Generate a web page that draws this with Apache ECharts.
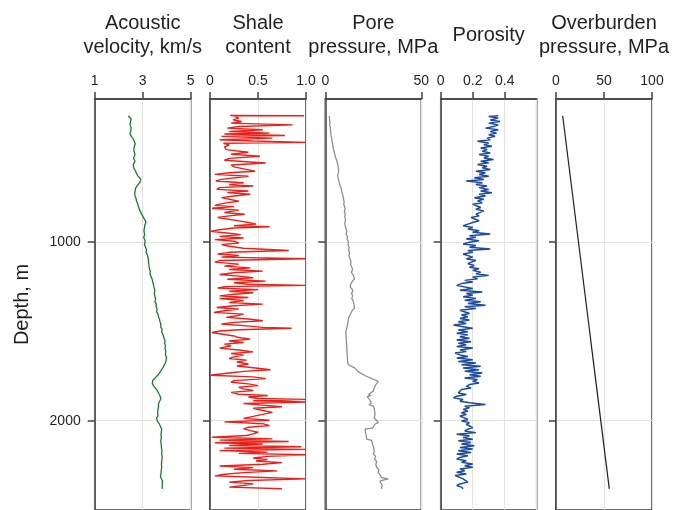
<!DOCTYPE html>
<html>
<head>
<meta charset="utf-8">
<script src="https://cdn.jsdelivr.net/npm/echarts@6/dist/echarts.min.js"></script>
<style>
html,body{margin:0;padding:0;background:#fff;}
#chart{width:673px;height:510px;}
</style>
</head>
<body>
<div id="chart"></div>
<script>
// ---- Data (depth in m, values per track) ----
const velDepth = [294,300,305,312,321,327,332,338,344,352,360,370,382,390,395,400,408,415,422,428,436,445,452,461,470,480,490,500,510,520,530,540,548,557,566,575,585,594,600,608,615,622,630,641,650,659,667,675,683,691,700,710,725,743,755,770,785,802,812,825,835,844,855,865,878,891,903,915,925,937,948,960,975,990,1002,1015,1030,1045,1057,1068,1075,1085,1094,1110,1130,1150,1165,1178,1190,1200,1212,1224,1237,1250,1260,1271,1285,1300,1318,1335,1348,1360,1375,1391,1405,1420,1433,1446,1460,1475,1490,1502,1512,1520,1530,1539,1552,1565,1580,1594,1610,1630,1648,1668,1680,1690,1702,1715,1728,1743,1755,1765,1775,1785,1793,1800,1808,1817,1826,1835,1845,1854,1862,1870,1876,1882,1893,1905,1915,1928,1940,1950,1960,1972,1985,2002,2010,2020,2030,2048,2060,2080,2095,2113,2130,2150,2168,2187,2205,2220,2240,2261,2280,2300,2315,2322,2326,2335,2345,2360,2372,2382];
const velValues = [2.40,2.46,2.45,2.52,2.54,2.49,2.50,2.46,2.47,2.53,2.52,2.48,2.50,2.55,2.47,2.44,2.52,2.55,2.60,2.61,2.65,2.64,2.69,2.68,2.64,2.66,2.63,2.65,2.68,2.67,2.62,2.63,2.68,2.65,2.61,2.66,2.62,2.64,2.69,2.68,2.74,2.72,2.80,2.86,2.92,2.96,2.88,2.82,2.78,2.75,2.70,2.72,2.67,2.68,2.72,2.74,2.79,2.82,2.87,2.88,2.93,2.96,3.00,3.04,3.10,3.14,3.09,3.08,3.03,3.05,3.10,3.08,3.04,3.09,3.10,3.07,3.12,3.16,3.14,3.18,3.20,3.25,3.23,3.24,3.26,3.28,3.32,3.30,3.34,3.36,3.40,3.42,3.45,3.46,3.52,3.51,3.48,3.50,3.54,3.51,3.57,3.55,3.60,3.58,3.64,3.66,3.70,3.72,3.76,3.75,3.81,3.79,3.84,3.85,3.90,3.89,3.93,3.91,3.95,3.93,3.96,3.95,3.99,3.97,3.93,3.90,3.85,3.79,3.72,3.65,3.56,3.50,3.42,3.35,3.40,3.45,3.47,3.51,3.58,3.62,3.66,3.69,3.72,3.71,3.76,3.72,3.70,3.66,3.69,3.65,3.63,3.66,3.62,3.64,3.58,3.61,3.66,3.70,3.72,3.79,3.78,3.76,3.78,3.75,3.77,3.78,3.80,3.79,3.81,3.80,3.78,3.79,3.77,3.76,3.74,3.70,3.72,3.82,3.80,3.82,3.81,3.82];

const shaleDepth = [292,294,296,307,317,326,335,345,354,363,372,382,391,396,404,409,419,428,435,443,448,456,469,483,498,509,520,532,543,558,569,580,591,604,613,622,632,641,650,659,669,680,687,696,706,715,724,733,743,752,761,772,783,795,802,811,822,835,845,854,863,872,882,891,900,909,915,922,932,941,950,959,969,978,987,996,1006,1015,1024,1035,1048,1058,1067,1076,1085,1094,1104,1113,1124,1135,1145,1154,1163,1172,1182,1191,1200,1209,1219,1228,1237,1243,1250,1258,1267,1276,1284,1293,1302,1311,1317,1328,1339,1348,1357,1367,1376,1385,1394,1404,1413,1422,1431,1441,1450,1459,1468,1478,1483,1491,1498,1507,1517,1526,1535,1544,1554,1563,1572,1581,1594,1605,1615,1624,1633,1643,1652,1661,1672,1683,1694,1704,1715,1724,1733,1746,1755,1765,1776,1785,1794,1804,1813,1822,1831,1842,1852,1859,1868,1876,1881,1889,1896,1904,1913,1922,1931,1943,1954,1965,1976,1987,1998,2007,2017,2028,2037,2046,2056,2065,2074,2083,2093,2102,2109,2117,2124,2131,2139,2146,2154,2161,2168,2176,2183,2191,2200,2209,2218,2226,2235,2244,2254,2263,2272,2281,2291,2300,2309,2318,2326,2335,2344,2354,2363,2372,2381];
const shaleValues = [0.21,0.98,0.25,0.30,0.24,0.33,0.22,0.86,0.30,0.18,0.55,0.20,0.62,0.15,0.78,0.12,0.65,0.10,0.45,1.00,0.14,0.20,0.15,0.17,0.40,0.22,0.52,0.20,0.15,0.58,0.22,0.25,0.35,0.47,0.20,0.05,0.40,0.42,0.12,0.06,0.35,0.20,0.45,0.10,0.07,0.40,0.18,0.42,0.25,0.12,0.10,0.30,0.15,0.05,0.25,0.02,0.30,0.15,0.36,0.20,0.08,0.06,0.30,0.40,0.48,0.25,0.62,0.25,0.10,0.00,0.18,0.32,0.10,0.35,0.05,0.25,0.30,0.12,0.20,0.35,0.82,0.20,0.08,0.30,0.12,1.00,0.10,0.05,0.30,0.15,0.42,0.20,0.55,0.25,0.10,0.30,0.45,0.18,0.58,0.25,0.40,1.00,0.15,0.08,0.50,0.20,0.45,0.25,0.10,0.40,0.10,0.35,0.20,0.55,0.25,0.07,0.30,0.15,0.04,0.35,0.28,0.17,0.40,0.55,0.25,0.12,0.35,0.55,0.85,0.30,0.10,0.02,0.00,0.25,0.30,0.42,0.20,0.35,0.15,0.22,0.10,0.30,0.45,0.22,0.35,0.25,0.20,0.38,0.28,0.40,0.28,0.45,0.63,0.35,0.20,0.00,0.45,0.58,0.25,0.22,0.40,0.50,0.30,0.35,0.45,0.22,0.30,0.60,0.40,0.50,1.00,0.45,1.00,0.35,0.55,0.75,0.45,0.55,0.65,0.55,0.45,0.35,0.62,0.15,0.55,0.62,0.40,0.35,0.42,0.50,0.45,0.38,0.02,0.65,0.10,0.82,0.05,0.55,0.20,0.95,0.15,1.00,0.10,0.60,0.30,1.00,0.60,0.45,0.60,0.48,0.75,0.55,0.10,0.45,0.25,0.70,0.35,0.15,0.05,0.55,1.00,0.40,0.20,0.45,0.35,0.20,0.75];

const poreDepth = [294,310,330,345,360,375,391,405,420,435,450,465,483,497,510,525,540,555,576,590,600,610,625,640,650,665,687,700,720,740,761,775,790,805,817,830,845,860,875,890,909,925,940,955,970,985,1002,1015,1030,1045,1060,1075,1095,1110,1125,1140,1155,1170,1185,1195,1206,1215,1225,1237,1250,1262,1275,1288,1300,1317,1330,1340,1352,1360,1372,1383,1395,1405,1415,1428,1438,1450,1460,1470,1483,1493,1502,1600,1678,1690,1706,1712,1724,1750,1780,1800,1820,1835,1845,1855,1860,1865,1872,1880,1890,1900,1910,1920,1928,1940,1950,1965,1983,1995,2004,2011,2020,2030,2040,2048,2060,2080,2104,2110,2120,2130,2140,2150,2160,2175,2187,2200,2215,2230,2245,2261,2275,2290,2305,2317,2322,2326,2333,2340,2350,2360,2370,2382];
const poreValues = [2.1,2.2,2.4,2.3,2.6,2.7,2.9,3.0,3.3,3.5,3.8,4.0,4.3,4.6,5.0,5.3,5.8,6.3,6.6,6.9,6.7,6.9,6.5,6.6,6.4,7.2,7.8,8.3,8.6,9.2,9.5,9.8,9.6,10.2,10.3,9.9,10.4,10.1,10.6,10.2,10.3,10.8,11.2,10.9,11.5,11.4,12.1,11.8,12.4,12.1,12.6,12.3,12.9,13.4,13.1,13.8,14.2,13.6,14.6,14.1,15.2,14.5,13.8,13.2,12.9,13.8,14.4,13.6,14.2,13.8,14.5,14.1,15.0,14.2,15.2,14.0,13.5,14.2,12.6,12.1,12.9,11.8,12.5,11.4,11.2,11.8,10.7,11.2,11.7,12.5,15.5,15.0,16.9,21.0,27.6,26.2,25.4,25.0,23.5,22.4,23.8,21.8,21.6,22.9,22.3,24.0,22.8,25.2,24.9,25.6,24.8,25.9,25.5,26.4,25.8,27.6,25.7,25.0,24.8,20.7,20.9,21.2,21.6,24.1,23.5,24.6,23.9,25.2,24.6,25.5,25.0,26.2,25.7,26.8,26.3,26.7,27.9,27.5,28.6,29.3,30.8,32.8,30.0,28.4,29.1,29.6,29.0,29.3];

const porosityDepth = [294,298,307,317,326,335,345,354,363,372,382,391,400,409,419,428,437,446,456,465,474,483,493,502,511,520,530,539,548,557,567,576,585,594,604,613,622,632,641,650,659,669,678,687,696,706,715,724,733,743,752,761,770,780,789,798,807,817,826,835,844,854,863,872,881,891,900,909,919,928,937,946,956,965,974,983,993,1002,1011,1020,1030,1039,1048,1058,1067,1076,1085,1094,1104,1113,1122,1132,1141,1150,1159,1169,1178,1187,1196,1206,1215,1224,1233,1243,1252,1261,1270,1280,1289,1298,1307,1317,1326,1335,1344,1354,1363,1372,1382,1391,1400,1409,1419,1428,1437,1446,1456,1465,1474,1483,1493,1502,1511,1520,1530,1539,1548,1558,1567,1576,1585,1594,1604,1613,1622,1632,1641,1650,1659,1669,1678,1687,1696,1706,1715,1724,1733,1743,1752,1761,1770,1780,1789,1798,1808,1817,1826,1835,1845,1854,1863,1872,1882,1891,1900,1909,1919,1928,1937,1946,1956,1965,1974,1983,1993,2002,2011,2020,2030,2039,2048,2058,2067,2076,2085,2094,2104,2113,2122,2131,2141,2150,2159,2168,2178,2187,2196,2206,2215,2224,2233,2243,2252,2261,2270,2280,2289,2298,2307,2317,2326,2335,2344,2354,2363,2372,2381];
const porosityValues = [0.36,0.30,0.36,0.31,0.37,0.30,0.36,0.33,0.28,0.36,0.31,0.35,0.30,0.34,0.29,0.31,0.23,0.30,0.27,0.32,0.25,0.29,0.26,0.31,0.24,0.30,0.27,0.33,0.25,0.30,0.23,0.29,0.26,0.31,0.22,0.28,0.24,0.30,0.21,0.27,0.16,0.26,0.22,0.29,0.24,0.30,0.25,0.32,0.24,0.28,0.21,0.27,0.23,0.26,0.20,0.20,0.25,0.22,0.27,0.28,0.22,0.24,0.19,0.19,0.24,0.20,0.17,0.14,0.20,0.17,0.24,0.20,0.31,0.18,0.22,0.16,0.24,0.18,0.14,0.22,0.18,0.31,0.17,0.20,0.14,0.13,0.20,0.16,0.22,0.19,0.17,0.21,0.18,0.24,0.20,0.25,0.22,0.30,0.20,0.23,0.15,0.20,0.13,0.10,0.09,0.20,0.12,0.26,0.16,0.20,0.14,0.22,0.15,0.25,0.17,0.28,0.15,0.22,0.12,0.12,0.18,0.13,0.17,0.12,0.18,0.11,0.16,0.08,0.14,0.20,0.11,0.17,0.10,0.17,0.12,0.18,0.10,0.19,0.11,0.16,0.10,0.20,0.12,0.16,0.09,0.12,0.17,0.10,0.20,0.11,0.22,0.13,0.25,0.14,0.24,0.15,0.26,0.18,0.25,0.15,0.23,0.20,0.24,0.18,0.16,0.19,0.13,0.12,0.11,0.16,0.10,0.08,0.14,0.12,0.18,0.28,0.15,0.18,0.14,0.17,0.13,0.16,0.12,0.13,0.17,0.13,0.18,0.16,0.18,0.20,0.17,0.15,0.22,0.10,0.18,0.14,0.20,0.11,0.19,0.13,0.21,0.12,0.20,0.11,0.19,0.10,0.17,0.12,0.10,0.16,0.13,0.20,0.15,0.20,0.12,0.15,0.10,0.16,0.09,0.08,0.14,0.13,0.17,0.12,0.10,0.13,0.14];

const overDepth = [294, 2382];
const overValues = [7.0, 55.5];

const depthTicks = [1000, 2000];
const titles = [
  ['Acoustic', 'velocity, km/s'],
  ['Shale', 'content'],
  ['Pore', 'pressure, MPa'],
  ['Porosity'],
  ['Overburden', 'pressure, MPa']
];
const xRanges = [[1,5,2],[0,1,0.5],[0,50,50],[0,0.6,0.2],[0,100,50]];
const seriesColors = ['#1b7b34','#e8221b','#8f8f8f','#1e4b9c','#231f20'];
const seriesWidths = [1.3, 1.4, 1.3, 1.5, 1.2];

// ---- Layout ----
const lefts = [94.7, 210, 325.3, 440.7, 556];
const W = 96, TOP = 99, H = 414;
const AX = '#46403f', TXT = '#231f20', GRID = '#e3e3e3';
const FONT = 'Liberation Sans, Arial, sans-serif';

const pair = (d, v) => d.map((dd, i) => [v[i], dd]);
const seriesData = [
  pair(velDepth, velValues), pair(shaleDepth, shaleValues), pair(poreDepth, poreValues),
  pair(porosityDepth, porosityValues), pair(overDepth, overValues)
];

const grid = lefts.map(l => ({left: l, top: TOP, width: W, height: H, show: true,
  borderColor: AX, borderWidth: 1.5, backgroundColor: 'transparent'}));

const xAxis = xRanges.map((r, i) => ({
  gridIndex: i, type: 'value', position: 'top', min: r[0], max: r[1], interval: r[2],
  axisLine: {show: true, lineStyle: {color: AX, width: 1.5}},
  axisTick: {show: true, inside: false, length: 7, lineStyle: {color: AX, width: 1.5}},
  axisLabel: {show: true, margin: 11, color: TXT, fontSize: 14, fontFamily: FONT,
    showMaxLabel: i !== 3,
    formatter: v => (i === 1 && v === 1) ? '1.0' : String(+v.toFixed(2))},
  splitLine: {show: true, lineStyle: {color: GRID, width: 1}}
}));

const yAxis = lefts.map((l, i) => ({
  gridIndex: i, type: 'value', inverse: true, min: 200, max: 2500,
  name: i === 0 ? 'Depth, m' : '', nameLocation: 'middle', nameRotate: 90, nameGap: 62,
  nameTextStyle: {color: TXT, fontSize: 20, fontFamily: FONT},
  axisLine: {show: true, lineStyle: {color: AX, width: 1.5}},
  axisTick: {show: true, inside: false, length: 7, customValues: depthTicks, lineStyle: {color: AX, width: 1.5}},
  axisLabel: {show: i === 0, margin: 14, customValues: depthTicks, color: TXT, fontSize: 14,
    fontFamily: FONT, formatter: v => String(v)},
  splitLine: {show: true, lineStyle: {color: GRID, width: 1}}
}));

const series = seriesData.map((d, i) => ({
  type: 'line', xAxisIndex: i, yAxisIndex: i, data: d, showSymbol: false, symbol: 'none',
  lineStyle: {color: seriesColors[i], width: seriesWidths[i]}, z: 1
}));

const graphic = [];
titles.forEach((t, i) => {
  const cx = lefts[i] + W / 2;
  if (t.length === 1) {
    graphic.push({type: 'text', x: cx, y: 35, style: {text: t[0], textAlign: 'center', textVerticalAlign: 'middle',
      fill: TXT, font: '20px "Liberation Sans", Arial, sans-serif'}});
  } else {
    t.forEach((line, k) => graphic.push({type: 'text', x: cx, y: 23 + k * 24,
      style: {text: line, textAlign: 'center', textVerticalAlign: 'middle', fill: TXT,
        font: '20px "Liberation Sans", Arial, sans-serif'}}));
  }
});

const chart = echarts.init(document.getElementById('chart'), null, {renderer: 'canvas'});
chart.setOption({animation: false, backgroundColor: '#fff', grid, xAxis, yAxis, series, graphic});
</script>
</body>
</html>
